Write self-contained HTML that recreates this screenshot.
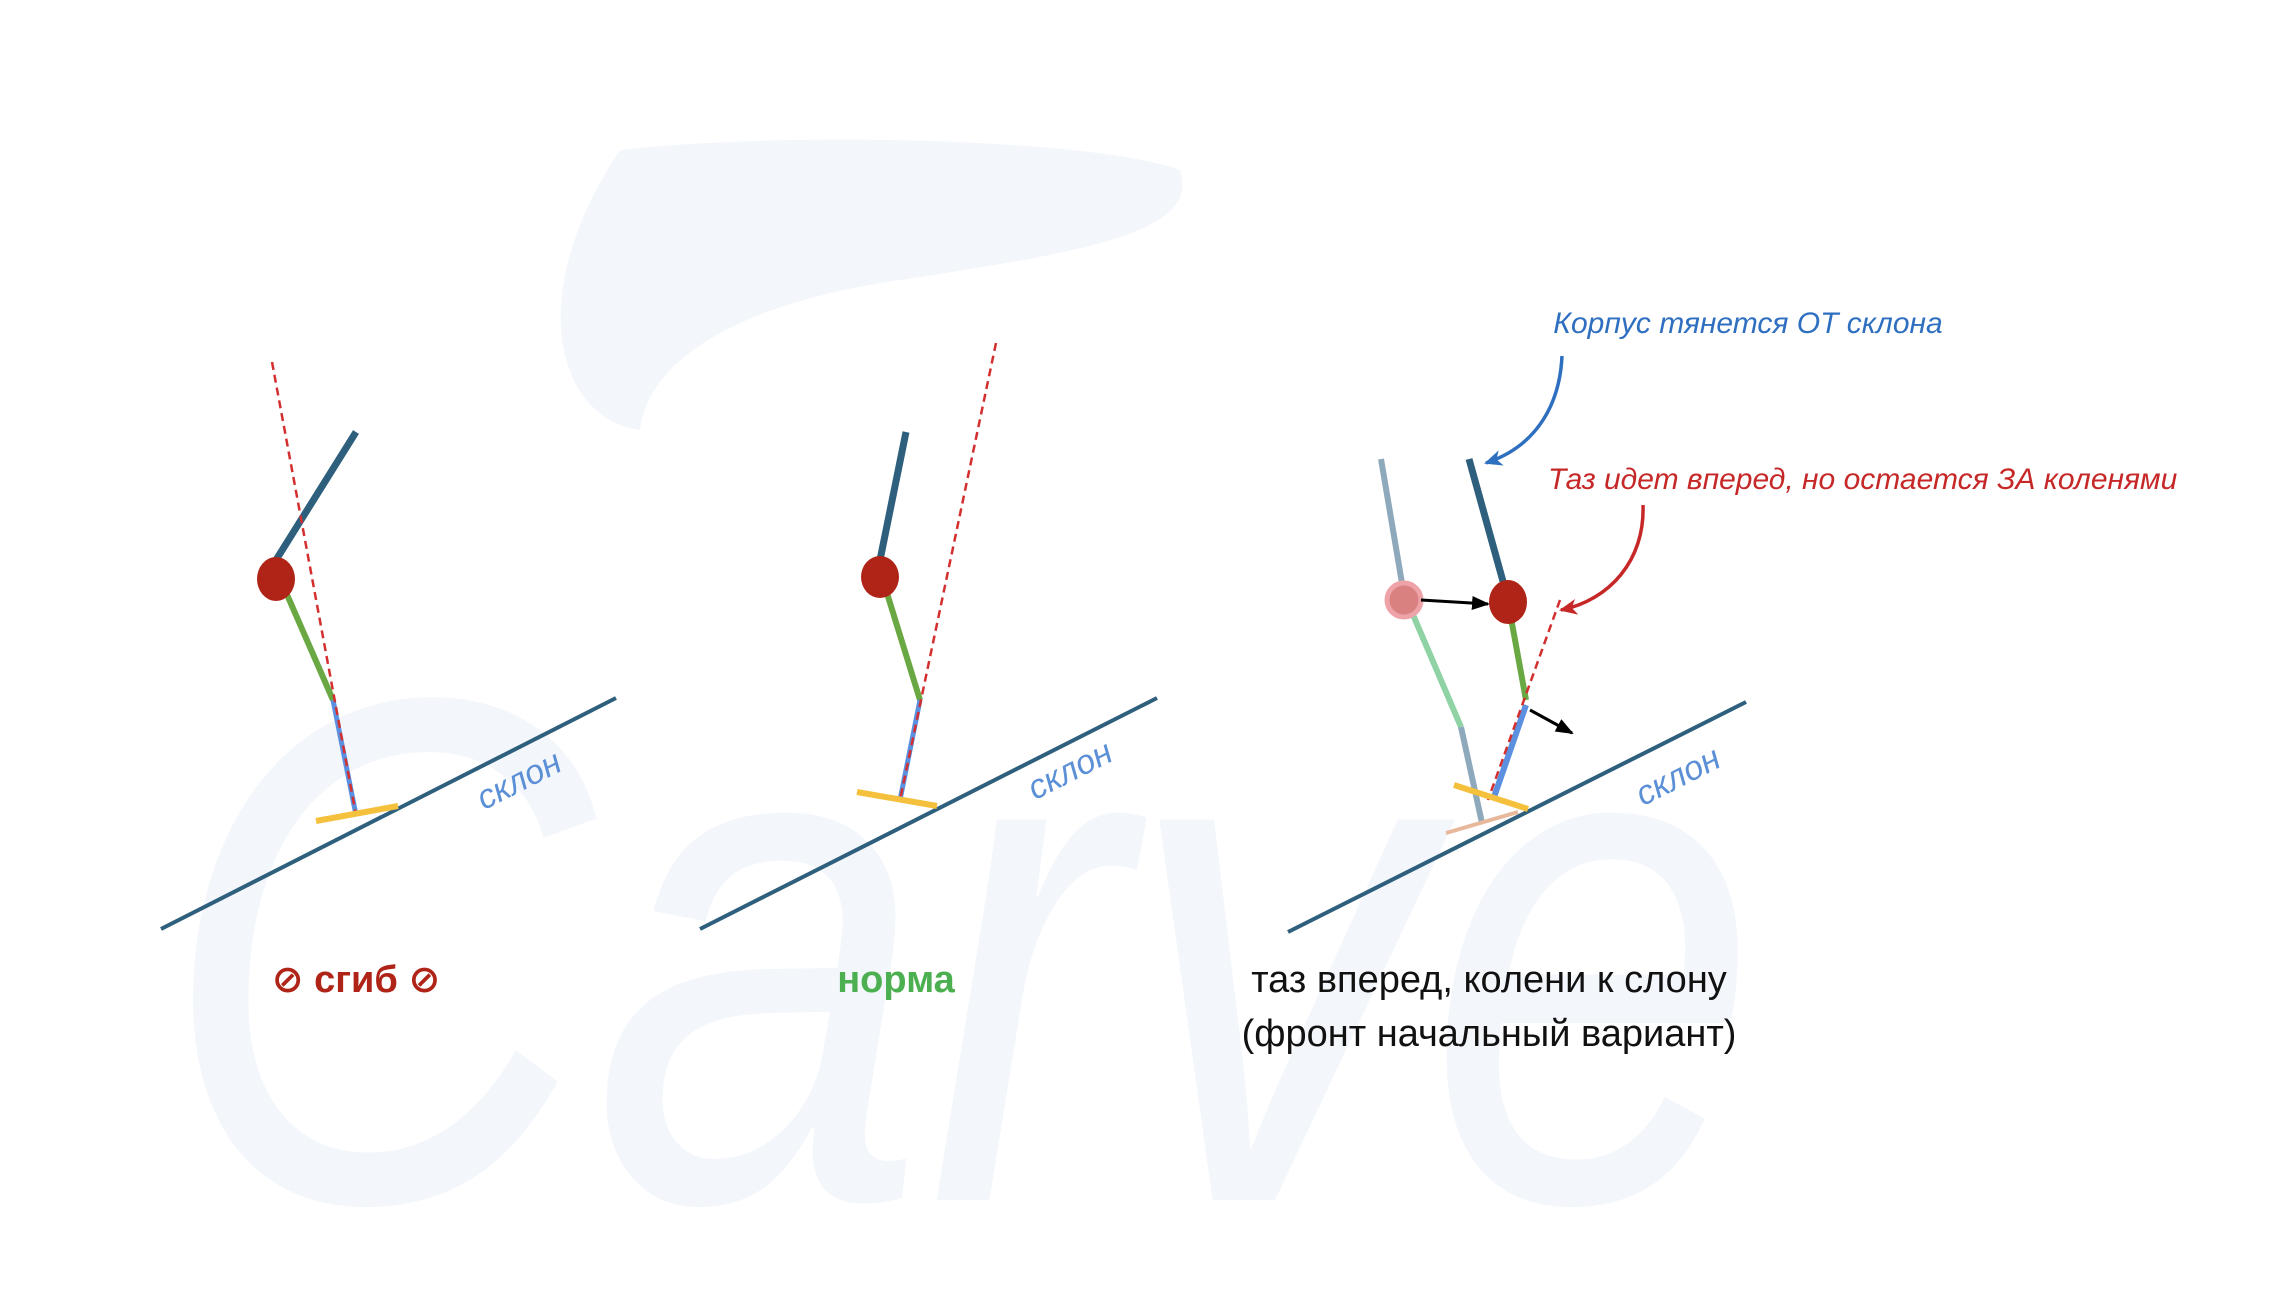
<!DOCTYPE html>
<html><head><meta charset="utf-8"><style>
html,body{margin:0;padding:0;background:#fff;width:2280px;height:1304px;overflow:hidden;}
svg{display:block;overflow:hidden;}
text{font-family:"Liberation Sans","DejaVu Sans",sans-serif;}
</style></head><body>
<svg width="2280" height="1304" viewBox="0 0 2280 1304">
<defs>
<marker id="abl" markerWidth="20" markerHeight="20" refX="16" refY="10" orient="auto" markerUnits="userSpaceOnUse"><path d="M0,2 L18,10 L0,18 L5,10 z" fill="#2f6fc0"/></marker>
<marker id="ar" markerWidth="20" markerHeight="20" refX="16" refY="10" orient="auto" markerUnits="userSpaceOnUse"><path d="M0,2 L18,10 L0,18 L5,10 z" fill="#c62828"/></marker>
<marker id="ak" markerWidth="20" markerHeight="20" refX="16" refY="10" orient="auto" markerUnits="userSpaceOnUse"><path d="M0,3 L18,10 L0,17 z" fill="#000"/></marker>
</defs>
<g fill="#f3f6fb">
<path d="M620,150 C800,130 1100,140 1180,170 C1200,230 1100,250 900,280 C760,300 650,350 640,430 C560,420 520,300 620,150 z"/>
<text x="160" y="1200" font-family="Liberation Serif" font-style="italic" font-size="720" textLength="1600" lengthAdjust="spacingAndGlyphs" fill="#f3f6fb">Carve</text>
</g>

<g>
<line x1="161" y1="929" x2="616" y2="698" stroke="#2e5f7d" stroke-width="4"/>
<line x1="276" y1="560" x2="356" y2="432" stroke="#2e5f7d" stroke-width="7"/>
<line x1="285" y1="590" x2="333" y2="700" stroke="#6aa843" stroke-width="6"/>
<line x1="333" y1="700" x2="356" y2="815" stroke="#5b8fe0" stroke-width="5"/>
<line x1="272" y1="362" x2="356" y2="815" stroke="#d32f2f" stroke-width="2.5" stroke-dasharray="8,5"/>
<line x1="316" y1="821" x2="398" y2="806" stroke="#f5c13d" stroke-width="6"/>
<ellipse cx="276" cy="579" rx="19" ry="22" fill="#b02418"/>
<text x="0" y="0" transform="translate(524,790) rotate(-27)" text-anchor="middle" font-size="34" font-style="italic" fill="#5b8fd6">склон</text>
<text x="356" y="992" text-anchor="middle" font-size="38" font-weight="bold" fill="#b02418">⊘ сгиб ⊘</text>
</g>

<g>
<line x1="700" y1="929" x2="1157" y2="698" stroke="#2e5f7d" stroke-width="4"/>
<line x1="880" y1="560" x2="906" y2="432" stroke="#2e5f7d" stroke-width="7"/>
<line x1="886" y1="590" x2="920" y2="700" stroke="#6aa843" stroke-width="6"/>
<line x1="920" y1="700" x2="900" y2="800" stroke="#5b8fe0" stroke-width="5"/>
<line x1="996" y1="343" x2="900" y2="800" stroke="#d32f2f" stroke-width="2.5" stroke-dasharray="8,5"/>
<line x1="857" y1="792" x2="937" y2="806" stroke="#f5c13d" stroke-width="6"/>
<ellipse cx="880" cy="577" rx="19" ry="21" fill="#b02418"/>
<text x="0" y="0" transform="translate(1075,780) rotate(-27)" text-anchor="middle" font-size="34" font-style="italic" fill="#5b8fd6">склон</text>
<text x="896" y="992" text-anchor="middle" font-size="38" font-weight="bold" fill="#4caf50">норма</text>
</g>

<g>
<line x1="1288" y1="932" x2="1746" y2="702" stroke="#2e5f7d" stroke-width="4"/>
<line x1="1381" y1="459" x2="1404" y2="595" stroke="#8fa9bc" stroke-width="6"/>
<line x1="1411" y1="610" x2="1461" y2="727" stroke="#8fd3a4" stroke-width="6"/>
<line x1="1461" y1="727" x2="1482" y2="823" stroke="#8fa9bc" stroke-width="6"/>
<line x1="1446" y1="833" x2="1518" y2="812" stroke="#e8b89a" stroke-width="4"/>
<circle cx="1404" cy="600" r="17" fill="#d98080" stroke="#eda3a8" stroke-width="5"/>
<line x1="1469" y1="459" x2="1504" y2="585" stroke="#2e5f7d" stroke-width="7"/>
<line x1="1511" y1="618" x2="1526" y2="700" stroke="#6aa843" stroke-width="6"/>
<line x1="1526" y1="705" x2="1493" y2="800" stroke="#5b8fe0" stroke-width="6"/>
<line x1="1560" y1="600" x2="1488" y2="800" stroke="#d32f2f" stroke-width="2.5" stroke-dasharray="8,5"/>
<line x1="1454" y1="785" x2="1528" y2="809" stroke="#f5c13d" stroke-width="6"/>
<ellipse cx="1508" cy="602" rx="19" ry="22" fill="#b02418"/>
<line x1="1421" y1="600" x2="1488" y2="604" stroke="#000" stroke-width="3" marker-end="url(#ak)"/>
<line x1="1530" y1="710" x2="1572" y2="733" stroke="#000" stroke-width="3" marker-end="url(#ak)"/>
<text x="0" y="0" transform="translate(1683,786) rotate(-27)" text-anchor="middle" font-size="34" font-style="italic" fill="#5b8fd6">склон</text>
<text x="1748" y="333" text-anchor="middle" font-size="30" font-style="italic" fill="#2f6fc0">Корпус тянется ОТ склона</text>
<path d="M1562,356 C1560,400 1540,445 1486,463" fill="none" stroke="#2f6fc0" stroke-width="3.5" marker-end="url(#abl)"/>
<text x="1548" y="489" font-size="30" font-style="italic" fill="#c62828">Таз идет вперед, но остается ЗА коленями</text>
<path d="M1643,505 C1645,560 1610,600 1561,610" fill="none" stroke="#c62828" stroke-width="3.5" marker-end="url(#ar)"/>
<text x="1489" y="992" text-anchor="middle" font-size="38" fill="#111">таз вперед, колени к слону</text>
<text x="1489" y="1046" text-anchor="middle" font-size="38" fill="#111">(фронт начальный вариант)</text>
</g>
</svg>
</body></html>
